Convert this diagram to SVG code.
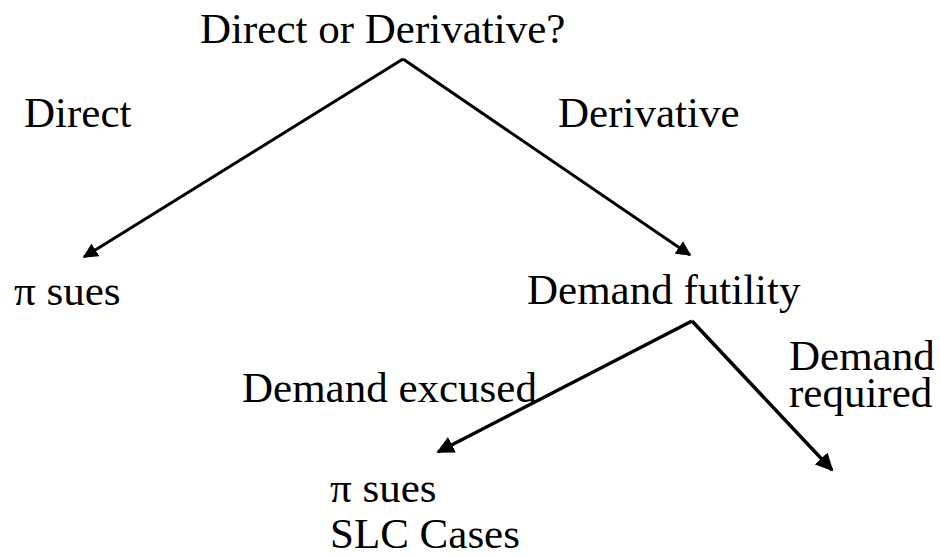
<svg xmlns="http://www.w3.org/2000/svg" width="940" height="558" viewBox="0 0 940 558">
<style>
text{font-family:"Liberation Serif","Times New Roman",serif;font-size:43px;fill:#000}
.c{stroke:#000;stroke-width:3;fill:none}
.c2{stroke:#000;stroke-width:3.5;fill:none}
</style>
<defs>
<marker id="ah" viewBox="0 0 10 10" refX="9" refY="5" markerWidth="5" markerHeight="5" orient="auto" markerUnits="strokeWidth">
<path d="M0,0 L10,5 L0,10 z" fill="#000"/>
</marker>
</defs>
<rect width="940" height="558" fill="#fff"/>
<g id="connectors">
<path class="c" d="M403,59 L84,257" marker-end="url(#ah)"/>
<path class="c" d="M403,59 L690,255" marker-end="url(#ah)"/>
<path class="c2" d="M692,321 L438,452" marker-end="url(#ah)"/>
<path class="c2" d="M692,321 L832,470" marker-end="url(#ah)"/>
</g>
<g id="root"><text x="200" y="43">Direct or Derivative?</text></g>
<g id="label-direct"><text x="24" y="127">Direct</text></g>
<g id="label-derivative"><text x="558" y="127">Derivative</text></g>
<g id="pi-sues"><text x="14" y="305">π sues</text></g>
<g id="demand-futility"><text x="527" y="304">Demand futility</text></g>
<g id="label-excused"><text x="242" y="402">Demand excused</text></g>
<g id="label-required"><text x="789" y="370">Demand<tspan x="789" y="407">required</tspan></text></g>
<g id="pi-sues-slc"><text x="330" y="502">π sues<tspan x="330" y="548">SLC Cases</tspan></text></g>
</svg>
